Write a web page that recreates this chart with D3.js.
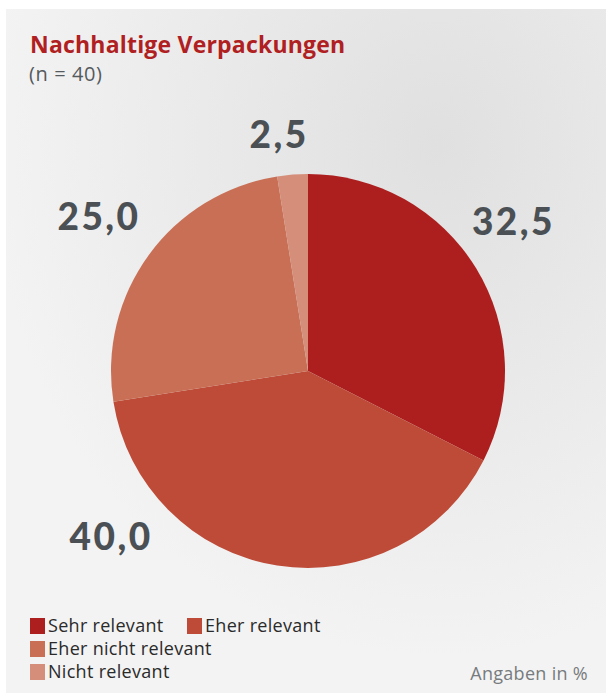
<!DOCTYPE html>
<head>
    <meta charset="utf-8">
    <script src="https://d3js.org/d3.v7.min.js"></script>
    <style>
        body { margin: 0; background: #ffffff; }
    </style>
</head>
<body>
    <svg id="chart" width="606" height="695"></svg>
    <script>
        // data
        var categories = ["Sehr relevant", "Eher relevant", "Eher nicht relevant", "Nicht relevant"];
        var values = [32.5, 40.0, 25.0, 2.5];
        var labels = ["32,5", "40,0", "25,0", "2,5"];
        var colors = ["#ad1e1f", "#be4b38", "#c96f55", "#d48e7a"];
        // where each value label sits (degrees from 12 o'clock)
        var labelAngles = [54, 230, 306.5, 353];

        var svg = d3.select("#chart"),
            width = +svg.attr("width"),
            height = +svg.attr("height");

        // background panel with soft grey shading
        var defs = svg.append("defs");
        var grad = defs.append("radialGradient")
            .attr("id", "bg")
            .attr("cx", "0.72").attr("cy", "0.2").attr("r", "0.75");
        grad.append("stop").attr("offset", "0%").attr("stop-color", "#e0e0e0");
        grad.append("stop").attr("offset", "100%").attr("stop-color", "#f3f3f3");

        svg.append("rect")
            .attr("x", 6).attr("y", 9)
            .attr("width", width - 6).attr("height", height - 11)
            .attr("fill", "url(#bg)");

        // title
        svg.append("text")
            .attr("x", 30).attr("y", 53)
            .style("font-family", "'Open Sans', Lato, sans-serif")
            .style("font-weight", "bold")
            .style("font-size", "23px")
            .style("letter-spacing", "0.2px")
            .style("fill", "#b01f22")
            .text("Nachhaltige Verpackungen");

        svg.append("text")
            .attr("x", 29).attr("y", 81)
            .style("font-family", "'Open Sans', Lato, sans-serif")
            .style("font-size", "20px")
            .style("letter-spacing", "0.6px")
            .style("fill", "#555a5e")
            .text("(n = 40)");

        // pie
        var cx = 308, cy = 371, radius = 197;
        var pie = d3.pie().sort(null).value(function (d) { return d; });
        var arc = d3.arc().innerRadius(0).outerRadius(radius);
        var arcs = pie(values);

        var g = svg.append("g").attr("transform", "translate(" + cx + "," + cy + ")");

        g.selectAll("path")
            .data(arcs)
            .enter().append("path")
            .attr("d", arc)
            .attr("fill", function (d, i) { return colors[i]; });

        // value labels
        var labelRadius = [254, 257, 260, 238];
        g.selectAll("text.val")
            .data(arcs)
            .enter().append("text")
            .attr("class", "val")
            .attr("x", function (d, i) { return labelRadius[i] * Math.sin(labelAngles[i] * Math.PI / 180); })
            .attr("y", function (d, i) { return -labelRadius[i] * Math.cos(labelAngles[i] * Math.PI / 180); })
            .attr("dy", "0.36em")
            .attr("text-anchor", "middle")
            .style("font-family", "Lato, 'Open Sans', sans-serif")
            .style("font-weight", "900")
            .style("font-size", "37px")
            .style("letter-spacing", "2.5px")
            .style("fill", "#4b5055")
            .text(function (d, i) { return labels[i]; });

        // legend
        var legendPos = [[30, 618], [187, 618], [30, 641], [30, 664]];
        var legend = svg.selectAll("g.leg")
            .data(categories)
            .enter().append("g")
            .attr("class", "leg")
            .attr("transform", function (d, i) { return "translate(" + legendPos[i][0] + "," + legendPos[i][1] + ")"; });

        legend.append("rect")
            .attr("width", 15).attr("height", 16)
            .attr("fill", function (d, i) { return colors[i]; });

        legend.append("text")
            .attr("x", 18).attr("y", 14)
            .style("font-family", "'Open Sans', Lato, sans-serif")
            .style("font-size", "18px")
            .style("letter-spacing", "0.3px")
            .style("fill", "#2a2a2a")
            .text(function (d) { return d; });

        svg.append("text")
            .attr("x", 588).attr("y", 680)
            .attr("text-anchor", "end")
            .style("font-family", "'Open Sans', Lato, sans-serif")
            .style("font-size", "18px")
            .style("letter-spacing", "0.3px")
            .style("fill", "#777b7e")
            .text("Angaben in %");
    </script>
</body>
